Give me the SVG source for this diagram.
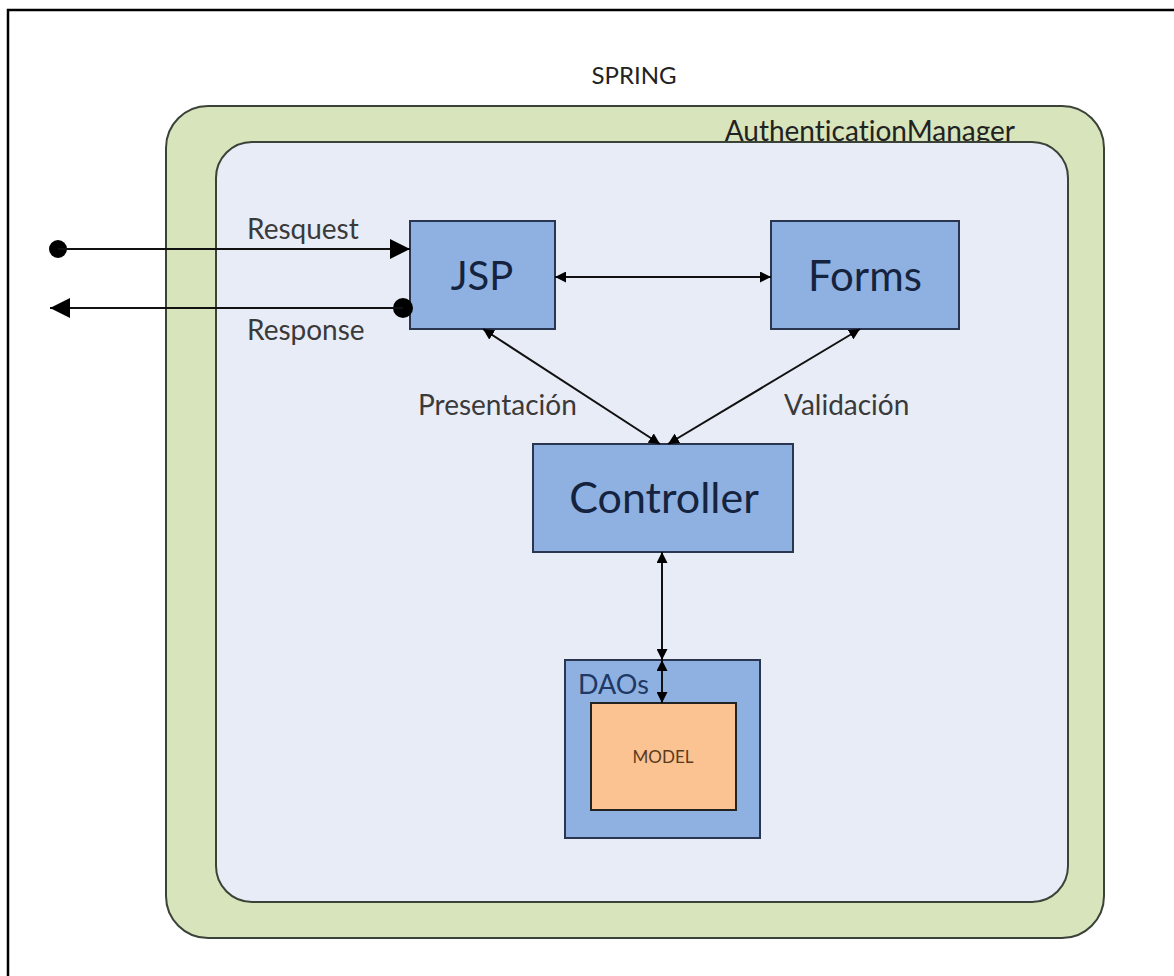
<svg xmlns="http://www.w3.org/2000/svg" width="1174" height="976" viewBox="0 0 1174 976">
<defs>
<style>
.t{font-family:Lato,"Open Sans","Liberation Sans",sans-serif;font-variant-ligatures:none;}
.lbl{font-size:28px;fill:#3a3a3a;}
.box{fill:#8eb1e2;stroke:#2a3550;stroke-width:2;}
.node{fill:#15233f;text-anchor:middle;}
.ln{stroke:#111;stroke-width:2;fill:none;}
</style>
<marker id="big" viewBox="0 0 10 10" refX="10" refY="5" markerWidth="20" markerHeight="20" markerUnits="userSpaceOnUse" orient="auto-start-reverse"><path d="M0,0 L10,5 L0,10 Z" fill="#000"/></marker>
<marker id="sm" viewBox="0 0 10 10" refX="10" refY="5" markerWidth="11" markerHeight="11" markerUnits="userSpaceOnUse" orient="auto-start-reverse"><path d="M0,0 L10,5 L0,10 Z" fill="#000"/></marker>
</defs>
<rect width="1174" height="976" fill="#fff"/>
<path d="M8,1000 L8,10 L1180,10" fill="none" stroke="#000" stroke-width="2.5"/>
<text class="t" x="634" y="84" font-size="24" fill="#222" text-anchor="middle">SPRING</text>
<g id="spring">
<rect x="166" y="106" width="938" height="832" rx="42" fill="#d8e4bc" stroke="#3b4237" stroke-width="2"/>
<text class="t" x="1015" y="141" font-size="28" fill="#222" text-anchor="end">AuthenticationManager</text>
</g>
<g id="auth">
<rect x="216" y="142" width="852" height="760" rx="36" fill="#e8ecf7" stroke="#3b4237" stroke-width="2"/>
</g>
<g id="jsp"><rect class="box" x="410" y="221" width="145" height="108"/><text class="t node" x="482" y="290" font-size="40">JSP</text></g>
<g id="forms"><rect class="box" x="771" y="221" width="188" height="108"/><text class="t node" x="865" y="291" font-size="42">Forms</text></g>
<g id="controller"><rect class="box" x="533" y="444" width="260" height="108"/><text class="t node" x="664" y="513" font-size="43">Controller</text></g>
<g id="daos"><rect class="box" x="565" y="660" width="195" height="178"/><text class="t" x="578" y="694" font-size="27" fill="#1f3864">DAOs</text></g>
<g id="model"><rect x="591" y="703" width="145" height="107" fill="#fac391" stroke="#222" stroke-width="2"/><text class="t" x="663" y="763" font-size="17" fill="#5a3b1e" text-anchor="middle">MODEL</text></g>
<g id="connectors">
<circle cx="58" cy="249" r="9" fill="#000"/>
<line class="ln" x1="58" y1="249" x2="410" y2="249" marker-end="url(#big)"/>
<circle cx="403" cy="308" r="10" fill="#000"/>
<line class="ln" x1="403" y1="308" x2="50" y2="308" marker-end="url(#big)"/>
<line class="ln" x1="555" y1="277" x2="771" y2="277" marker-start="url(#sm)" marker-end="url(#sm)"/>
<line class="ln" x1="483" y1="329" x2="660" y2="444" marker-start="url(#sm)" marker-end="url(#sm)"/>
<line class="ln" x1="860" y1="329" x2="668" y2="444" marker-start="url(#sm)" marker-end="url(#sm)"/>
<line class="ln" x1="662" y1="552" x2="662" y2="660" marker-start="url(#sm)" marker-end="url(#sm)"/>
<line class="ln" x1="662" y1="660" x2="662" y2="703" marker-start="url(#sm)" marker-end="url(#sm)"/>
</g>
<text class="t lbl" x="247" y="239">Resquest</text>
<text class="t lbl" x="247" y="340">Response</text>
<text class="t lbl" x="418" y="415">Presentación</text>
<text class="t lbl" x="784" y="415">Validación</text>
</svg>
